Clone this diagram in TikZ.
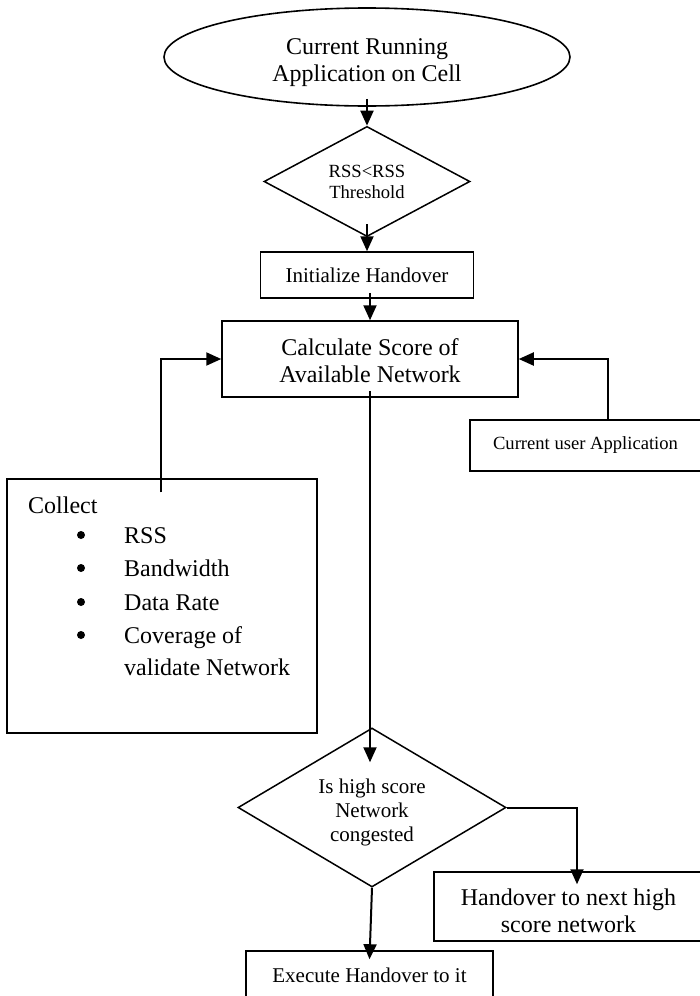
\documentclass[tikz,border=0pt]{standalone}
\usepackage{fontspec}
\setmainfont{Liberation Serif}
\usetikzlibrary{shapes.geometric,arrows.meta,calc}
\begin{document}
\begin{tikzpicture}[x=1pt,y=-1pt,
  box/.style={draw, line width=1.5pt, rectangle, inner sep=0pt, align=center},
  dia/.style={draw, line width=1.5pt, diamond, inner sep=0pt, align=center},
  conn/.style={line width=2pt, -{Triangle[length=15pt,width=13pt]}},
  big/.style={font=\fontsize{24}{27}\selectfont},
  mid/.style={font=\fontsize{21}{24}\selectfont},
  sml/.style={font=\fontsize{18.6}{21}\selectfont},
  item/.style={big, anchor=base west, inner sep=0pt},
  txt/.style={align=center, inner sep=0pt},
  bul/.style={fill=black},
]
\useasboundingbox (0,0) rectangle (700,996);
\node[draw, line width=1.6pt, ellipse, minimum width=406pt, minimum height=98pt, inner sep=0pt] (ell) at (367,57) {};
\node[txt, big] (ellt) at ($(ell.center)+(0,6)$) {Current Running\\Application on Cell};
\node[dia, minimum width=206pt, minimum height=109pt, sml] (d1) at (367,181.5) {RSS<RSS\\Threshold};
\node[box, minimum width=213pt, minimum height=46pt, mid] (init) at (367,275) {Initialize Handover};
\node[box, minimum width=296pt, minimum height=76pt] (calc) at (370,359) {};
\node[txt, big] (calct) at ($(calc.center)+(0,2)$) {Calculate Score of\\Available Network};
\node[box, minimum width=231pt, minimum height=51pt, sml] (cua) at (585.5,445.5) {Current user Application};
\node[box, minimum width=310pt, minimum height=254pt] (collect) at (162,606) {};
\node[item] (c0) at (28,513) {Collect};
\node[item] (c1) at (124,543) {RSS};
\node[item] (c2) at (124,576) {Bandwidth};
\node[item] (c3) at (124,610) {Data Rate};
\node[item] (c4) at (124,643) {Coverage of};
\node[item] (c5) at (124,675) {validate Network};
\fill[bul] (81,535) circle (4pt);
\fill[bul] (81,568) circle (4pt);
\fill[bul] (81,602) circle (4pt);
\fill[bul] (81,635) circle (4pt);
\node[dia, minimum width=268pt, minimum height=159pt] (d2) at (372,807.5) {};
\node[txt, mid] (d2t) at ($(d2.center)+(0,5)$) {Is high score\\Network\\congested};
\node[box, minimum width=267pt, minimum height=69pt] (ho) at (567.5,906.5) {};
\node[txt, big] (hot) at ($(ho.center)+(1,4)$) {Handover to next high\\score network};
\node[box, minimum width=247pt, minimum height=49pt, mid] (exec) at (369.5,975.5) {Execute Handover to it};

\draw[conn] ($(ell.south)+(0,-8)$) -- (d1.north);
\draw[conn] ($(d1.south)+(0,-13)$) -- (init.north);
\draw[conn] ($(init.south -| calc.north)+(0,-6)$) -- (calc.north);
\draw[conn] ($(calc.south)+(0,-7)$) -- ($(d2.north -| calc.south)+(0,35)$);
\draw[conn] ($(collect.north west)+(155,14)$) |- (calc.west);
\draw[conn] ($(cua.north)+(22.5,0)$) |- (calc.east);
\draw[conn] (d2.east) -| ($(ho.north)+(9.5,13)$);
\draw[conn] (d2.south) -- ($(exec.north)+(0,9)$);
\end{tikzpicture}
\end{document}
